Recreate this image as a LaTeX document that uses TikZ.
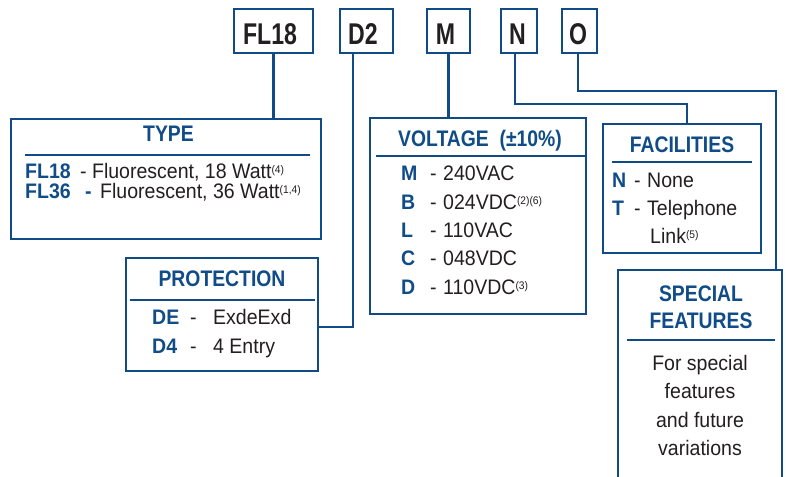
\documentclass[tikz,border=0pt]{standalone}
\usepackage{fontspec}
\newfontfamily\mybodyfam[FakeStretch=0.93]{Liberation Sans}
\newfontfamily\myttlfam[FakeStretch=0.86]{Liberation Sans}
\newfontfamily\mytopfam[FakeStretch=0.77]{Liberation Sans}
\newcommand\mytxtfont{\mybodyfam\fontsize{21}{24}\selectfont}
\newcommand\mykeyfont{\mybodyfam\bfseries\fontsize{21}{24}\selectfont}
\newcommand\myttlfont{\myttlfam\bfseries\fontsize{22.5}{26}\selectfont}
\newcommand\mytopfont{\mytopfam\bfseries\fontsize{30}{34}\selectfont}
\newcommand\mysupr[1]{\raisebox{4.5pt}{\mybodyfam\fontsize{11}{12}\selectfont #1}}
\definecolor{bordc}{RGB}{16,75,133}
\definecolor{ttlc}{RGB}{16,76,136}
\definecolor{txtc}{RGB}{35,31,32}
\tikzset{
  frame/.style={draw=bordc, line width=2.6pt, fill=white, inner sep=0pt, outer sep=0pt},
  topbox/.style={draw=bordc, line width=2.2pt, fill=white, inner sep=0pt, outer sep=0pt, minimum height=44pt},
  link/.style={draw=bordc, line width=2.6pt},
  sepline/.style={draw=bordc, line width=1.7pt},
  ttl/.style={anchor=base, inner sep=0pt, text=ttlc, font=\myttlfont},
  toptxt/.style={anchor=base, inner sep=0pt, text=txtc, font=\mytopfont},
  txt/.style={anchor=base west, inner sep=0pt, text=txtc, font=\mytxtfont},
  ctxt/.style={anchor=base, inner sep=0pt, text=txtc, font=\mytxtfont},
  keytxt/.style={anchor=base west, inner sep=0pt, text=ttlc, font=\mykeyfont},
}
\begin{document}
\begin{tikzpicture}[x=1pt,y=-1pt]
\useasboundingbox (0,0) rectangle (786,476);
\clip (0,0) rectangle (786,476);
% top code boxes
\node[topbox, minimum width=79pt] (fl18) at (273.5,31) {};
\node[topbox, minimum width=53pt] (d2) at (366.5,31) {};
\node[topbox, minimum width=43pt] (m) at (448.5,31) {};
\node[topbox, minimum width=36pt] (n) at (519,31) {};
\node[topbox, minimum width=35pt] (o) at (579.5,31) {};
\node[toptxt] (fl18t) at (270,45) {FL18};
\node[toptxt] (d2t) at (363,45) {D2};
\node[toptxt] (mt) at (445.5,45) {M};
\node[toptxt] (nt) at (517.5,45) {N};
\node[toptxt] (ot) at (578,45) {O};
% boxes
\node[frame, minimum width=310pt, minimum height=120pt] (type) at (166,179) {};
\node[frame, minimum width=192pt, minimum height=113pt] (prot) at (222,314.5) {};
\node[frame, minimum width=216pt, minimum height=196pt] (volt) at (478,216) {};
\node[frame, minimum width=158pt, minimum height=129pt] (fac) at (682,188.5) {};
\node[frame, minimum width=164pt, minimum height=230pt] (spec) at (700,385) {};
% connectors
\draw[link] (fl18.south) -- (fl18.south |- type.north);
\draw[link] (d2.south -| 353,0) |- (prot.east |- 0,327);
\draw[link] (m.south) -- (m.south |- volt.north);
\draw[link] (n.south -| 515,0) -- (515,104) -| (fac.north -| 687,0);
\draw[link] (o.south -| 578,0) -- (578,91) -| (spec.north -| 776,0);
% TYPE
\node[ttl] (typet) at (168.5,141) {TYPE};
\draw[sepline] (25,155) -- (310,155);
\node[keytxt] (k1) at (25,178) {FL18};
\node[txt] (v1) at (80,178) {- Fluorescent, 18 Watt\mysupr{(4)}};
\node[keytxt] (k2) at (25,198) {FL36};
\node[keytxt] (k2d) at (85,198) {-};
\node[txt] (v2) at (100,198) {Fluorescent, 36 Watt\mysupr{(1,4)}};
% PROTECTION
\node[ttl] (prott) at (222,286) {PROTECTION};
\draw[sepline] (130,300) -- (315,300);
\node[keytxt] (pk1) at (152,324) {DE};
\node[txt] (pd1) at (190,324) {-};
\node[txt] (pv1) at (213,324) {ExdeExd};
\node[keytxt] (pk2) at (152,353) {D4};
\node[txt] (pd2) at (190,353) {-};
\node[txt] (pv2) at (213,353) {4 Entry};
% VOLTAGE
\node[ttl] (voltt) at (480,146) {VOLTAGE\ \ (±10\%)};
\draw[sepline] (376,156) -- (586,156);
\node[keytxt] (vk1) at (401,180) {M};
\node[txt] (vd1) at (430,180) {-};
\node[txt] (vv1) at (443,180) {240VAC};
\node[keytxt] (vk2) at (401,209) {B};
\node[txt] (vd2) at (430,209) {-};
\node[txt] (vv2) at (443,209) {024VDC\mysupr{(2)(6)}};
\node[keytxt] (vk3) at (401,237) {L};
\node[txt] (vd3) at (430,237) {-};
\node[txt] (vv3) at (443,237) {110VAC};
\node[keytxt] (vk4) at (401,265) {C};
\node[txt] (vd4) at (430,265) {-};
\node[txt] (vv4) at (443,265) {048VDC};
\node[keytxt] (vk5) at (401,294) {D};
\node[txt] (vd5) at (430,294) {-};
\node[txt] (vv5) at (443,294) {110VDC\mysupr{(3)}};
% FACILITIES
\node[ttl] (fact) at (682,152) {FACILITIES};
\draw[sepline] (612,162) -- (752,162);
\node[keytxt] (fk1) at (612,187) {N};
\node[txt] (fd1) at (634,187) {-};
\node[txt] (fv1) at (647,187) {None};
\node[keytxt] (fk2) at (612,215) {T};
\node[txt] (fd2) at (634,215) {-};
\node[txt] (fv2) at (647,215) {Telephone};
\node[txt] (fv3) at (650,243) {Link\mysupr{(5)}};
% SPECIAL FEATURES
\node[ttl] (spt1) at (701,301) {SPECIAL};
\node[ttl] (spt2) at (701,328) {FEATURES};
\draw[sepline] (627,340) -- (775,340);
\node[ctxt] (sp1) at (700,370) {For special};
\node[ctxt] (sp2) at (700,398) {features};
\node[ctxt] (sp3) at (700,427) {and future};
\node[ctxt] (sp4) at (700,455) {variations};
\end{tikzpicture}
\end{document}
